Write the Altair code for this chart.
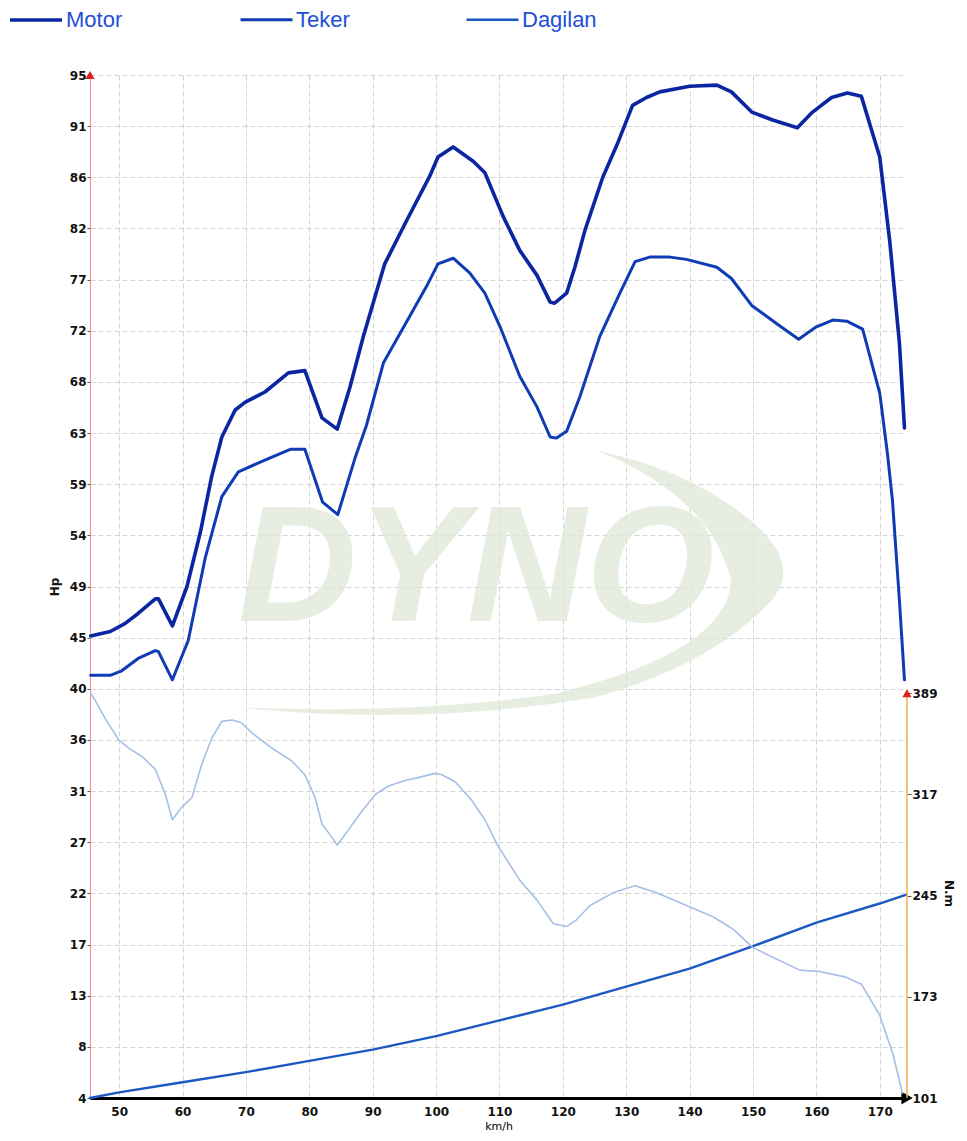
import altair as alt
import pandas as pd

# ---------------- data ----------------
series_names = ["Motor", "Teker", "Dagilan"]
series_colors = ["#0a26a0", "#0f3cb4", "#1c58c2"]
series_widths = [3.6, 2.4, 1.6]

motor_kmh = [45.5, 48.6, 50.9, 53.0, 55.7, 56.2, 58.4, 60.7, 62.8, 64.6,
             66.2, 68.3, 69.9, 73.0, 76.7, 79.3, 82.0, 84.4, 86.4, 88.5,
             91.9, 95.4, 99.0, 100.3, 102.7, 105.9, 107.7, 110.6, 113.2, 115.9,
             118.0, 118.7, 120.6, 121.9, 123.5, 126.3, 128.7, 131.0, 133.2, 135.3,
             140.0, 144.3, 146.6, 149.8, 153.1, 157.0, 159.4, 162.4, 164.9, 167.1,
             170.0, 171.6, 173.1, 173.9]
motor_hp = [45.1, 45.5, 46.2, 47.1, 48.4, 48.4, 46.0, 49.5, 54.3, 59.3,
            62.8, 65.2, 65.9, 66.8, 68.5, 68.7, 64.5, 63.5, 67.2, 71.7,
            78.2, 82.1, 86.0, 87.7, 88.6, 87.3, 86.3, 82.4, 79.4, 77.2,
            74.8, 74.7, 75.6, 77.9, 81.2, 85.9, 89.0, 92.3, 93.0, 93.5,
            94.0, 94.1, 93.5, 91.7, 91.0, 90.3, 91.7, 93.0, 93.4, 93.1,
            87.7, 80.1, 71.2, 63.6]

teker_kmh = [45.5, 48.6, 50.4, 53.0, 55.7, 56.2, 58.4, 60.9, 63.6, 66.2,
             68.8, 72.0, 74.1, 77.0, 79.3, 82.1, 84.5, 87.2, 89.0, 91.7,
             95.4, 98.5, 100.3, 102.7, 105.3, 107.7, 110.1, 113.2, 115.9, 118.0,
             119.0, 120.6, 122.7, 125.8, 129.0, 131.4, 133.7, 136.9, 139.5, 144.3,
             146.6, 149.8, 153.7, 157.2, 160.0, 162.6, 164.8, 167.3, 170.0, 171.2,
             172.0, 173.1, 173.9]
teker_hp = [41.6, 41.6, 42.0, 43.1, 43.8, 43.7, 41.2, 44.7, 52.1, 57.5,
            59.7, 60.5, 61.0, 61.7, 61.7, 57.0, 55.9, 60.9, 63.8, 69.4,
            73.1, 76.2, 78.2, 78.7, 77.4, 75.6, 72.6, 68.2, 65.5, 62.8,
            62.7, 63.3, 66.4, 71.7, 75.6, 78.4, 78.8, 78.8, 78.6, 77.9,
            76.9, 74.5, 72.9, 71.5, 72.6, 73.2, 73.1, 72.4, 66.7, 61.4,
            57.2, 48.3, 41.2]

dagilan_kmh = [45.4, 50, 60, 70, 80, 90, 100, 110, 120, 130, 140, 150, 160, 170, 174.2]
dagilan_hp = [4.0, 4.5, 5.4, 6.3, 7.3, 8.3, 9.5, 10.9, 12.3, 13.9, 15.5, 17.5, 19.6, 21.3, 22.1]

tork_kmh = [45.5, 46.2, 47.8, 49.9, 51.5, 53.6, 55.7, 57.3, 58.4, 59.9,
            61.5, 63.0, 64.6, 66.2, 67.8, 69.3, 70.9, 74.1, 77.2, 79.3,
            80.9, 82.0, 83.5, 84.4, 86.2, 88.3, 90.4, 92.5, 95.1, 97.2,
            99.8, 100.9, 103.0, 105.6, 107.7, 109.8, 113.2, 115.9, 118.5, 120.6,
            122.2, 124.3, 127.9, 131.4, 134.8, 139.5, 143.7, 146.9, 150.0, 153.2,
            157.4, 160.5, 164.7, 167.1, 170.0, 172.1, 173.6]
tork_nm = [389, 384, 371, 356, 350, 344, 335, 317, 299, 308,
           315, 338, 357, 369, 370, 368, 361, 350, 341, 331,
           315, 296, 287, 281, 292, 305, 317, 323, 327, 329,
           332, 331, 326, 313, 299, 280, 256, 242, 225, 223,
           228, 238, 247, 252, 247, 238, 230, 221, 208, 201,
           192, 191, 187, 182, 160, 132, 104]

x_ticks = [50, 60, 70, 80, 90, 100, 110, 120, 130, 140, 150, 160, 170]
hp_tick_labels = [4, 8, 13, 17, 22, 27, 31, 36, 40, 45, 49, 54, 59, 63, 68, 72, 77, 82, 86, 91, 95]
nm_tick_labels = [101, 173, 245, 317, 389]

# ---------------- scales ----------------
x_min, x_max = 45.4, 174.3
hp_min, hp_max = hp_tick_labels[0], hp_tick_labels[-1]
hp_step = (hp_max - hp_min) / (len(hp_tick_labels) - 1)
hp_tick_pos = [hp_min + i * hp_step for i in range(len(hp_tick_labels))]
nm_min = nm_tick_labels[0]
nm_max = nm_min + (nm_tick_labels[-1] - nm_min) * (hp_max - hp_min) / (40 - hp_min)

labels_js = "[" + ",".join("'%d'" % v for v in hp_tick_labels) + "]"
hp_label_expr = "%s[round((datum.value - %g) / %g)]" % (labels_js, hp_min, hp_step)

x_scale = alt.Scale(domain=[x_min, x_max], nice=False, zero=False)
hp_scale = alt.Scale(domain=[hp_min, hp_max], nice=False, zero=False)
nm_scale = alt.Scale(domain=[nm_min, nm_max], nice=False, zero=False)

LBL_FONT = "DejaVu Sans"

x_axis = alt.Axis(values=x_ticks, title="km/h", grid=True, tickSize=0,
                  domainColor="#000000", domainWidth=3,
                  labelFont=LBL_FONT, labelFontWeight="bold", labelFontSize=12,
                  labelColor="#111111", labelPadding=8,
                  titleFont=LBL_FONT, titleFontWeight="normal", titleFontSize=11,
                  titleColor="#000000", titlePadding=3)
hp_axis = alt.Axis(values=hp_tick_pos, labelExpr=hp_label_expr, title="Hp", grid=True,
                   domainColor="#f08c8c", domainWidth=1, tickSize=3, tickColor="#555555",
                   labelFont=LBL_FONT, labelFontWeight="bold", labelFontSize=12,
                   labelColor="#111111", labelPadding=1,
                   titleFont=LBL_FONT, titleFontWeight="bold", titleFontSize=12,
                   titleColor="#111111", titlePadding=8)
nm_axis = alt.Axis(orient="right", values=nm_tick_labels, title="N.m", grid=False,
                   domain=False, tickSize=4, tickColor="#555555",
                   labelFont=LBL_FONT, labelFontWeight="bold", labelFontSize=12,
                   labelColor="#111111", labelPadding=1,
                   titleFont=LBL_FONT, titleFontWeight="bold", titleFontSize=12,
                   titleColor="#111111", titleAngle=90, titleX=41, titleY=818,
                   titleAlign="center", titleBaseline="middle")

# ---------------- tables ----------------
rows = []
for name, ks, hs in [("Motor", motor_kmh, motor_hp),
                     ("Teker", teker_kmh, teker_hp),
                     ("Dagilan", dagilan_kmh, dagilan_hp)]:
    for k, h in zip(ks, hs):
        rows.append({"series": name, "kmh": k, "hp": h})
df_lines = pd.DataFrame(rows)
df_tork = pd.DataFrame({"kmh": tork_kmh, "nm": tork_nm})
one = pd.DataFrame({"v": [0]})

legend_cfg = dict(orient="none", legendX=-82, legendY=-83, direction="horizontal",
                  title=None, symbolType="stroke", symbolSize=2700,
                  labelFont="Liberation Sans", labelFontSize=22, labelColor="#1e4fd6",
                  columnPadding=111, labelOffset=2, padding=0)

def X(**kw):
    return alt.X(scale=x_scale, axis=x_axis, **kw)

def YH(**kw):
    return alt.Y(scale=hp_scale, axis=hp_axis, **kw)

def YN(**kw):
    return alt.Y(scale=nm_scale, axis=nm_axis, **kw)

# ---------------- Hp layers ----------------
swoosh = ("M -0.91 0.407 Q -0.3 0.47 0.28 0.373 Q 0.68 0.26 0.873 0.04 "
          "Q 0.95 -0.06 0.833 -0.183 Q 0.62 -0.38 0.28 -0.45 "
          "Q 0.66 -0.3 0.73 -0.017 Q 0.72 0.22 0.147 0.36 Q -0.3 0.43 -0.91 0.407 Z")

wm_ring = alt.Chart(one).mark_point(shape=swoosh, filled=True, size=360000,
                                    color="#dfe7d6", opacity=0.75, strokeWidth=0).encode(
    x=X(datum=112.0), y=YH(datum=49.6))

wm_text = alt.Chart(one).mark_text(text="DYNO", font="Liberation Sans", fontSize=165,
                                   fontWeight="bold", fontStyle="italic",
                                   color="#dfe7d6", opacity=0.75,
                                   align="center", baseline="middle").encode(
    x=X(datum=106.3), y=YH(datum=50.9))

lines = alt.Chart(df_lines).mark_line(strokeJoin="round", strokeCap="round").encode(
    x=X(field="kmh", type="quantitative"),
    y=YH(field="hp", type="quantitative"),
    color=alt.Color("series:N", sort=series_names,
                    scale=alt.Scale(domain=series_names, range=series_colors),
                    legend=alt.Legend(**legend_cfg)),
    strokeWidth=alt.StrokeWidth("series:N", sort=series_names,
                                scale=alt.Scale(domain=series_names, range=series_widths),
                                legend=alt.Legend(**legend_cfg)),
)

left_arrow = alt.Chart(one).mark_point(shape="triangle-up", filled=True, size=85,
                                       color="#e01e1e", opacity=1).encode(
    x=X(datum=x_min), y=YH(datum=hp_max))

x_arrow = alt.Chart(one).mark_point(shape="triangle-right", filled=True, size=170,
                                    color="#000000", opacity=1).encode(
    x=X(datum=x_max), y=YH(datum=hp_min))

hp_layer = alt.layer(wm_ring, wm_text, lines, left_arrow, x_arrow)

# ---------------- N.m layers ----------------
tork = alt.Chart(df_tork).mark_line(color="#a6bfe4", strokeWidth=1.6,
                                    strokeJoin="round").encode(
    x=X(field="kmh", type="quantitative"),
    y=YN(field="nm", type="quantitative"))

right_rule = alt.Chart(one).mark_rule(color="#f2b04a", strokeWidth=1.5).encode(
    x=X(datum=x_max),
    y=YN(datum=nm_tick_labels[0]),
    y2=alt.Y2(datum=nm_tick_labels[-1]))

right_arrow = alt.Chart(one).mark_point(shape="triangle-up", filled=True, size=85,
                                        color="#e01e1e", opacity=1).encode(
    x=X(datum=x_max), y=YN(datum=nm_tick_labels[-1]))

nm_layer = alt.layer(tork, right_rule, right_arrow)

chart = alt.layer(hp_layer, nm_layer).resolve_scale(y="independent").properties(
    width=817, height=1023,
    padding={"left": 82, "top": 67, "right": 50, "bottom": 35},
    autosize=alt.AutoSizeParams(type="none"),
    background="#ffffff",
).configure_view(stroke=None).configure_axis(
    gridColor="#d4d4d4", gridDash=[5, 3], gridWidth=1
)

chart.save("out.html", embed_options={"renderer": "svg", "actions": False})
